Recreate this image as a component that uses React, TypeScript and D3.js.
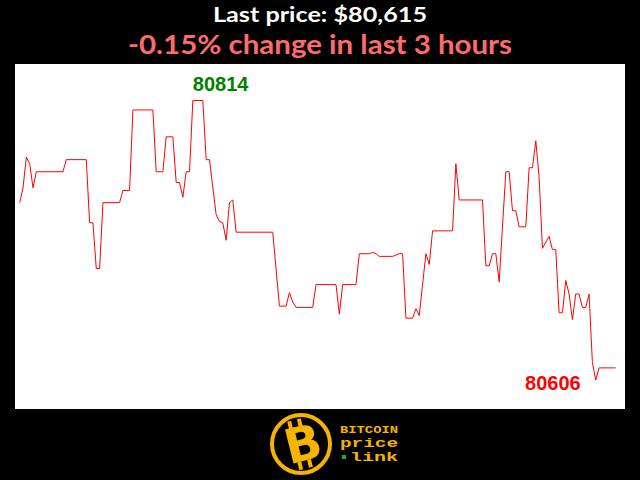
import React from "react";
import * as d3 from "d3";

const minutes = [0,1,2,3,4,5,13,14,20,21,22,23,24,25,30,31,33,34,40,41,43,44,46,47,48,49,50,51,52,55,56,57,59,60,61,62,63,64,65,76,78,80,81,82,83,88,89,95,96,97,101,102,105,106,107,108,111,112,114,115,116,118,119,120,122,123,124,130,131,132,139,140,141,142,143,144,146,147,148,149,150,152,153,154,155,156,157,159,160,161,162,163,164,165,166,167,168,169,170,171,172,173,174,179];
const prices = [80738,80749,80772,80767,80749,80761,80761,80770,80770,80723,80723,80689,80689,80738,80738,80747,80747,80807,80807,80761,80761,80787,80787,80753,80753,80742,80761,80761,80814,80814,80770,80770,80729,80724,80723,80710,80738,80740,80716,80716,80661,80661,80671,80664,80660,80660,80677,80677,80655,80677,80677,80700,80700,80701,80700,80698,80698,80698,80700,80700,80652,80652,80659,80654,80700,80692,80717,80717,80767,80740,80740,80691,80691,80700,80700,80679,80761,80761,80732,80732,80720,80720,80764,80764,80784,80757,80704,80713,80703,80703,80656,80656,80680,80670,80651,80670,80670,80660,80660,80670,80619,80606,80615,80615];

const titleLine1 = "Last price: $80,615";
const titleLine2 = "-0.15% change in last 3 hours";
const maxLabel = "80814";
const minLabel = "80606";
const logoWords = ["BITCOIN", "price", "link"];

export default function App() {
  const W = 640, H = 480;
  const plot = { left: 15, top: 64, right: 625, bottom: 409 };
  const x = d3.scaleLinear().domain([0, 179]).range([19.7, 615.7]);
  const y = d3.scaleLinear().domain([80584.4, 80841.2]).range([plot.bottom, plot.top]);
  const data = minutes.map((m, i) => ({ m, p: prices[i] }));
  const line = d3.line<{ m: number; p: number }>().x(d => x(d.m)).y(d => y(d.p));
  const maxI = prices.indexOf(d3.max(prices)!);
  const minI = prices.indexOf(d3.min(prices)!);
  const gold = "#f5b400";
  const cx = 301, cy = 444;
  return (
    <svg width={W} height={H} style={{ position: "absolute", left: 0, top: 0, background: "#000" }}>
      <rect x={0} y={0} width={W} height={H} fill="#000" />
      <text x={320} y={22} textAnchor="middle" fill="#fff" fontFamily="Lato" fontWeight="bold" fontSize={21} textLength={214} lengthAdjust="spacingAndGlyphs">{titleLine1}</text>
      <text x={320} y={54} textAnchor="middle" fill="#ff6b6b" fontFamily="Lato" fontWeight="bold" fontSize={27} textLength={384} lengthAdjust="spacingAndGlyphs">{titleLine2}</text>
      <rect x={plot.left} y={plot.top} width={plot.right - plot.left} height={plot.bottom - plot.top} fill="#fff" />
      <path d={line(data)!} fill="none" stroke="#ff0000" strokeWidth={1} />
      <text x={x(minutes[maxI])} y={y(prices[maxI]) - 10} fill="#008000" fontFamily="Liberation Sans" fontWeight="bold" fontSize={20}>{maxLabel}</text>
      <text x={x(minutes[minI]) - 15} y={y(prices[minI]) + 10} textAnchor="end" fill="#ff0000" fontFamily="Liberation Sans" fontWeight="bold" fontSize={20}>{minLabel}</text>
      <g>
        <circle cx={cx} cy={cy} r={29} fill="#000" stroke={gold} strokeWidth={4} />
        <g transform={`translate(${cx},${cy}) rotate(-14)`}>
          <text x={2} y={17} textAnchor="middle" fill={gold} fontFamily="DejaVu Sans" fontWeight="bold" fontSize={48}>B</text>
          <rect x={-8} y={-25} width={4} height={8} fill={gold} />
          <rect x={2} y={-25} width={4} height={8} fill={gold} />
          <rect x={-8} y={17} width={4} height={8} fill={gold} />
          <rect x={2} y={17} width={4} height={8} fill={gold} />
        </g>
        <text x={340} y={433} fill={gold} fontFamily="Liberation Mono" fontWeight="bold" fontSize={11} textLength={58} lengthAdjust="spacingAndGlyphs">{logoWords[0]}</text>
        <text x={340} y={447} fill={gold} fontFamily="Liberation Mono" fontWeight="bold" fontSize={12} textLength={58} lengthAdjust="spacingAndGlyphs">{logoWords[1]}</text>
        <rect x={342} y={455} width={4} height={4} fill="#1faa2a" />
        <text x={350} y={461} fill={gold} fontFamily="Liberation Mono" fontWeight="bold" fontSize={12} textLength={48} lengthAdjust="spacingAndGlyphs">{logoWords[2]}</text>
      </g>
    </svg>
  );
}
